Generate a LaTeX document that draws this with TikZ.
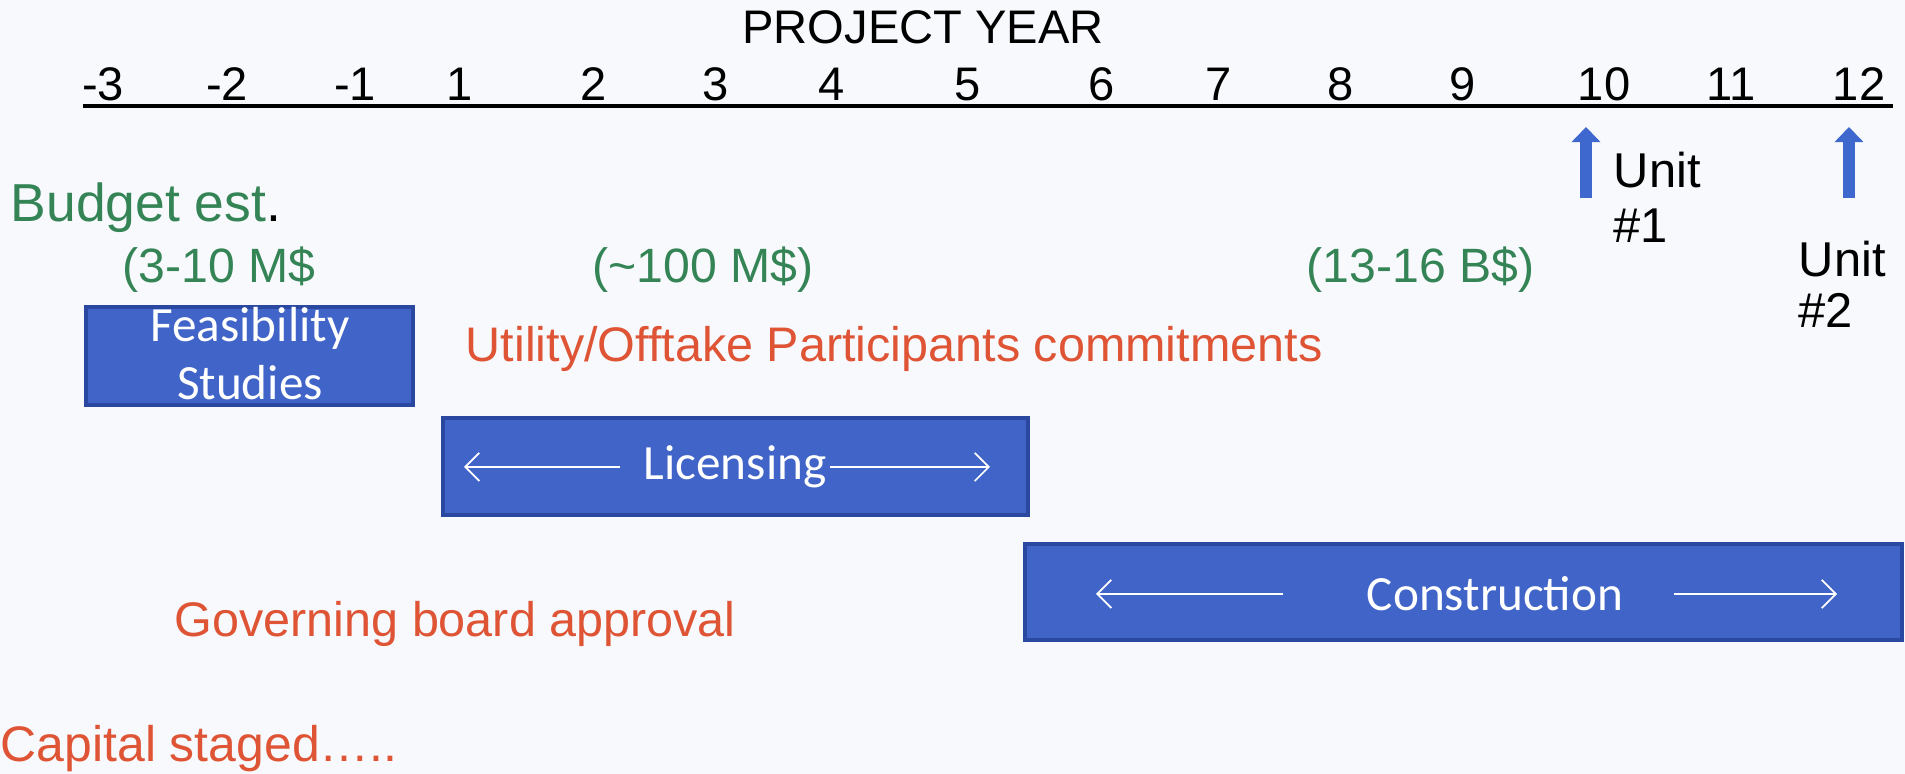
\documentclass[tikz,border=0pt]{standalone}
\usepackage{fontspec}
\setmainfont{Liberation Sans}
\newfontfamily\boxfont{Carlito}
\usetikzlibrary{arrows.meta}
\definecolor{bg}{RGB}{247,249,253}
\definecolor{grn}{RGB}{52,132,86}
\definecolor{rd}{RGB}{222,84,52}
\definecolor{boxblue}{RGB}{64,100,200}
\definecolor{boxedge}{RGB}{42,72,160}
\definecolor{arrblue}{RGB}{62,104,205}
\tikzset{
  axlabel/.style={anchor=base, inner sep=0pt, font=\fontsize{13.4}{16}\selectfont},
  greentxt/.style={anchor=base west, inner sep=0pt, text=grn, font=\fontsize{13.7}{16}\selectfont},
  redtxt/.style={anchor=base west, inner sep=0pt, text=rd, font=\fontsize{13.8}{16}\selectfont},
  unittxt/.style={anchor=base west, inner sep=0pt, font=\fontsize{13.9}{16}\selectfont},
  phase/.style={draw=boxedge, line width=1.1pt, fill=boxblue},
  boxtxt/.style={text=white, inner sep=0pt, font=\boxfont\fontsize{14}{17}\selectfont},
  whitearrow/.style={draw=white, line width=0.5pt, -{Straight Barb[length=4pt,width=8pt]}},
  milestone/.style={draw=arrblue, line width=3.4pt, -{Triangle[length=4.3pt,width=8pt]}}
}
\begin{document}
\begin{tikzpicture}[x=0.01cm,y=-0.01cm]
\fill[bg] (0,0) rectangle (1905,774);
\useasboundingbox (0,0) rectangle (1905,774);

% title and axis
\node[axlabel] (title) at (923,44) {PROJECT YEAR};
\foreach \lab/\xx [count=\i] in {-3/103,-2/227,-1/355,1/460,2/594,3/716,4/832,5/968,6/1102,7/1219,8/1341,9/1463,10/1604,11/1731,12/1859}
  \node[axlabel] (y\i) at (\xx,101) {\lab};
\coordinate (axL) at (83,106);
\coordinate (axR) at (1893,106);
\draw[line width=1.1pt] (axL) -- (axR);

% milestones
\coordinate (m1a) at (1586,198);
\coordinate (m1b) at (1586,127);
\coordinate (m2a) at (1849,198);
\coordinate (m2b) at (1849,127);
\draw[milestone] (m1a) -- (m1b);
\draw[milestone] (m2a) -- (m2b);
\node[unittxt] (u1) at (1613,188) {Unit};
\node[unittxt] (u1n) at (1613,243) {\#1};
\node[unittxt] (u2) at (1798,277) {Unit};
\node[unittxt] (u2n) at (1798,328) {\#2};

% budget
\node[anchor=base west, inner sep=0pt, font=\fontsize{15.2}{18}\selectfont] (budget) at (10,222) {\textcolor{grn}{Budget est}.};
\node[greentxt] (b1) at (122,283) {(3-10 M\$};
\node[greentxt] (b2) at (592,283) {(\textasciitilde100 M\$)};
\node[greentxt] (b3) at (1306,283) {(13-16 B\$)};

% phases
\path[phase] (86,307) rectangle (413,405);
\node[boxtxt, anchor=base] (feas1) at (250,342) {Feasibility};
\node[boxtxt, anchor=base] (feas2) at (250,400) {Studies};

\path[phase] (443,418) rectangle (1028,515);
\node[boxtxt] (lic) at (735,467) {Licensing};
\coordinate (licL) at (464,467);
\coordinate (licR) at (990,467);
\coordinate (licLs) at (620,467);
\coordinate (licRs) at (830,467);
\draw[whitearrow] (licLs) -- (licL);
\draw[whitearrow] (licRs) -- (licR);

\path[phase] (1025,544) rectangle (1902,640);
\node[boxtxt] (con) at (1495,594) {Construction};
\coordinate (conL) at (1096,594);
\coordinate (conR) at (1837,594);
\coordinate (conLs) at (1283,594);
\coordinate (conRs) at (1674,594);
\draw[whitearrow] (conLs) -- (conL);
\draw[whitearrow] (conRs) -- (conR);

% red texts
\node[redtxt] (util) at (465,362) {Utility/Offtake Participants commitments};
\node[redtxt] (gov) at (174,637) {Governing board approval};
\node[redtxt, font=\fontsize{14.2}{17}\selectfont] (cap) at (0,762) {Capital staged\dots..};
\end{tikzpicture}
\end{document}
